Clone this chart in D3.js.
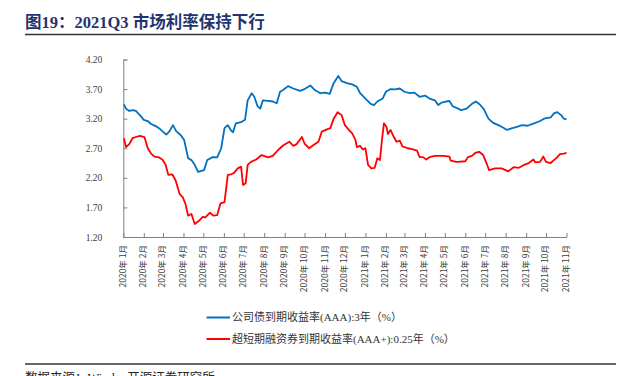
<!DOCTYPE html>
<html><head><meta charset="utf-8">
<script src="https://cdn.jsdelivr.net/npm/d3@7"></script>
<style>
html,body{margin:0;padding:0;background:#fff;}
svg{display:block;}
</style></head>
<body>
<svg id="chart" width="644" height="376"></svg>
<script>
const titleText = "图19：2021Q3 市场利率保持下行";
const sourceText = "数据来源：Wind，开源证券研究所";
const seriesNames = ["公司债到期收益率(AAA):3年（%）", "超短期融资券到期收益率(AAA+):0.25年（%）"];
const yTicks = [1.20, 1.70, 2.20, 2.70, 3.20, 3.70, 4.20];

const corpBond = [
["2020-01-02",3.44],["2020-01-05",3.37],["2020-01-10",3.33],["2020-01-15",3.345],["2020-01-20",3.33],["2020-01-26",3.26],
["2020-02-01",3.18],["2020-02-07",3.16],["2020-02-12",3.11],["2020-02-19",3.075],["2020-02-26",3.02],["2020-03-06",2.93],
["2020-03-11",2.99],["2020-03-16",3.09],["2020-03-21",2.99],["2020-03-28",2.92],["2020-04-02",2.84],["2020-04-08",2.53],
["2020-04-13",2.50],["2020-04-18",2.42],["2020-04-23",2.30],["2020-05-02",2.33],["2020-05-07",2.50],["2020-05-15",2.55],
["2020-05-22",2.545],["2020-05-28",2.70],["2020-06-02",3.04],["2020-06-07",3.09],["2020-06-12",3.00],["2020-06-15",2.97],
["2020-06-19",3.12],["2020-06-27",3.14],["2020-07-03",3.18],["2020-07-07",3.51],["2020-07-13",3.63],["2020-07-17",3.57],
["2020-07-22",3.41],["2020-07-26",3.37],["2020-07-30",3.51],["2020-08-07",3.50],["2020-08-14",3.49],["2020-08-20",3.46],
["2020-08-25",3.655],["2020-08-30",3.69],["2020-09-06",3.75],["2020-09-14",3.71],["2020-09-24",3.67],["2020-10-01",3.70],
["2020-10-10",3.76],["2020-10-17",3.68],["2020-10-25",3.63],["2020-11-01",3.64],["2020-11-08",3.62],["2020-11-14",3.80],
["2020-11-21",3.92],["2020-11-26",3.835],["2020-12-04",3.80],["2020-12-12",3.78],["2020-12-19",3.74],["2020-12-24",3.63],
["2021-01-01",3.54],["2021-01-09",3.45],["2021-01-14",3.43],["2021-01-19",3.49],["2021-01-27",3.54],["2021-02-01",3.655],
["2021-02-08",3.70],["2021-02-15",3.695],["2021-02-22",3.71],["2021-03-01",3.655],["2021-03-09",3.63],["2021-03-16",3.64],
["2021-03-24",3.57],["2021-04-01",3.59],["2021-04-08",3.54],["2021-04-16",3.51],["2021-04-21",3.43],["2021-04-26",3.47],
["2021-05-03",3.49],["2021-05-08",3.50],["2021-05-13",3.41],["2021-05-21",3.37],["2021-05-26",3.345],["2021-06-03",3.37],
["2021-06-11",3.45],["2021-06-17",3.49],["2021-06-23",3.44],["2021-06-29",3.36],["2021-07-06",3.20],["2021-07-13",3.13],
["2021-07-21",3.09],["2021-07-28",3.05],["2021-08-03",3.01],["2021-08-11",3.04],["2021-08-18",3.06],["2021-08-26",3.09],
["2021-09-03",3.08],["2021-09-13",3.12],["2021-09-22",3.16],["2021-09-28",3.20],["2021-10-08",3.22],["2021-10-13",3.29],
["2021-10-18",3.31],["2021-10-24",3.26],["2021-10-28",3.20],["2021-11-01",3.19]
];

const cpBond = [
["2020-01-02",2.87],["2020-01-05",2.72],["2020-01-10",2.77],["2020-01-15",2.87],["2020-01-20",2.89],["2020-01-26",2.91],
["2020-02-02",2.89],["2020-02-07",2.70],["2020-02-12",2.61],["2020-02-17",2.56],["2020-02-24",2.545],["2020-02-29",2.51],
["2020-03-05",2.42],["2020-03-09",2.25],["2020-03-15",2.26],["2020-03-20",2.16],["2020-03-26",1.93],["2020-03-31",1.87],
["2020-04-04",1.76],["2020-04-08",1.56],["2020-04-13",1.59],["2020-04-18",1.42],["2020-04-24",1.47],["2020-04-30",1.54],
["2020-05-04",1.53],["2020-05-11",1.61],["2020-05-16",1.56],["2020-05-22",1.57],["2020-05-27",1.77],["2020-06-02",1.79],
["2020-06-07",2.25],["2020-06-12",2.26],["2020-06-16",2.28],["2020-06-22",2.36],["2020-06-27",2.39],["2020-06-30",2.08],
["2020-07-04",2.11],["2020-07-07",2.42],["2020-07-12",2.47],["2020-07-20",2.51],["2020-07-28",2.585],["2020-08-07",2.545],
["2020-08-14",2.57],["2020-08-22",2.67],["2020-08-30",2.75],["2020-09-08",2.81],["2020-09-14",2.74],["2020-09-19",2.77],
["2020-09-27",2.89],["2020-10-01",2.78],["2020-10-08",2.70],["2020-10-14",2.75],["2020-10-22",2.81],["2020-10-27",2.98],
["2020-11-04",3.02],["2020-11-09",3.04],["2020-11-14",3.20],["2020-11-20",3.31],["2020-11-26",3.26],["2020-12-01",3.09],
["2020-12-07",3.01],["2020-12-12",2.95],["2020-12-17",2.84],["2020-12-19",2.72],["2020-12-24",2.74],["2020-12-28",2.68],
["2021-01-01",2.70],["2021-01-05",2.42],["2021-01-10",2.36],["2021-01-15",2.37],["2021-01-19",2.53],["2021-01-23",2.50],
["2021-01-26",2.84],["2021-01-29",3.12],["2021-02-02",3.06],["2021-02-04",2.94],["2021-02-08",3.01],["2021-02-13",2.89],
["2021-02-17",2.81],["2021-02-22",2.83],["2021-02-26",2.73],["2021-03-06",2.70],["2021-03-14",2.68],["2021-03-20",2.66],
["2021-03-24",2.55],["2021-03-29",2.55],["2021-04-03",2.51],["2021-04-08",2.55],["2021-04-16",2.57],["2021-04-23",2.57],
["2021-04-30",2.57],["2021-05-08",2.56],["2021-05-10",2.49],["2021-05-18",2.47],["2021-05-21",2.47],["2021-06-01",2.48],
["2021-06-05",2.55],["2021-06-11",2.57],["2021-06-16",2.62],["2021-06-22",2.64],["2021-06-28",2.585],["2021-07-03",2.45],
["2021-07-07",2.33],["2021-07-16",2.36],["2021-07-26",2.36],["2021-08-05",2.31],["2021-08-13",2.38],["2021-08-21",2.37],
["2021-08-29",2.42],["2021-09-05",2.45],["2021-09-12",2.51],["2021-09-15",2.46],["2021-09-22",2.47],["2021-09-27",2.56],
["2021-10-01",2.47],["2021-10-08",2.45],["2021-10-13",2.50],["2021-10-18",2.55],["2021-10-22",2.60],["2021-10-28",2.61],
["2021-11-01",2.62]
];

const colors = ["#0070C0", "#FF0000"];
const parse = d3.timeParse("%Y-%m-%d");
const svg = d3.select("#chart");

const x = d3.scaleTime()
  .domain([parse("2020-01-01"), parse("2021-11-01")])
  .range([123.3, 566.5]);
const y = d3.scaleLinear().domain([1.2, 4.2]).range([237, 59.5]);

// title
svg.append("text").attr("x", 25).attr("y", 28)
  .attr("font-family", "'Liberation Serif','Noto Sans CJK SC',serif")
  .attr("font-weight", "bold").attr("font-size", 16.5).attr("fill", "#1F3470")
  .text(titleText);
svg.append("line").attr("x1", 25).attr("x2", 616).attr("y1", 34.5).attr("y2", 34.5)
  .attr("stroke", "#333").attr("stroke-width", 1.3);

// y axis
const yAxis = d3.axisLeft(y).tickValues(yTicks).tickFormat(d3.format(".2f")).tickSize(-4).tickPadding(21);
const gy = svg.append("g").attr("transform", "translate(123.3,0)").call(yAxis);
gy.select(".domain").attr("stroke", "#7f7f7f");
gy.selectAll(".tick line").attr("stroke", "#7f7f7f");
gy.selectAll(".tick text").attr("font-family", "'Liberation Serif',serif").attr("font-size", 9.5).attr("fill", "#404040");

// x axis
const months = d3.timeMonth.range(parse("2020-01-01"), parse("2021-11-02"));
const fmt = d => d.getFullYear() + "年 " + (d.getMonth() + 1) + "月";
const xAxis = d3.axisBottom(x).tickValues(months).tickFormat(fmt).tickSize(-4).tickSizeOuter(0);
const gx = svg.append("g").attr("transform", "translate(0,237)").call(xAxis);
gx.select(".domain").attr("stroke", "#7f7f7f");
gx.selectAll(".tick line").attr("stroke", "#7f7f7f");
gx.selectAll(".tick text")
  .attr("font-family", "'Noto Sans CJK SC',sans-serif").attr("font-size", 8.5).attr("fill", "#404040")
  .attr("transform", "rotate(-90)").attr("text-anchor", "end")
  .attr("x", -8).attr("y", -1).attr("dy", "0.35em");

// lines
const line = d3.line().x(d => x(parse(d[0]))).y(d => y(d[1])).curve(d3.curveLinear);
[corpBond, cpBond].forEach((data, i) => {
  svg.append("path").datum(data).attr("d", line)
    .attr("fill", "none").attr("stroke", colors[i]).attr("stroke-width", 1.8)
    .attr("stroke-linejoin", "round");
});

// legend
const legY = [317.5, 339];
seriesNames.forEach((name, i) => {
  svg.append("line").attr("x1", 206.5).attr("x2", 230).attr("y1", legY[i]).attr("y2", legY[i])
    .attr("stroke", colors[i]).attr("stroke-width", 2);
  svg.append("text").attr("x", 232).attr("y", legY[i]).attr("dy", "0.35em")
    .attr("font-family", "'Liberation Serif','Noto Sans CJK SC',serif").attr("font-size", 11).attr("fill", "#333")
    .text(name);
});

// source
svg.append("line").attr("x1", 25).attr("x2", 616).attr("y1", 364).attr("y2", 364)
  .attr("stroke", "#333").attr("stroke-width", 1.3);
svg.append("text").attr("x", 25).attr("y", 382)
  .attr("font-family", "'Liberation Serif','Noto Sans CJK SC',serif").attr("font-size", 12.5).attr("fill", "#222")
  .text(sourceText);
</script>
</body></html>
